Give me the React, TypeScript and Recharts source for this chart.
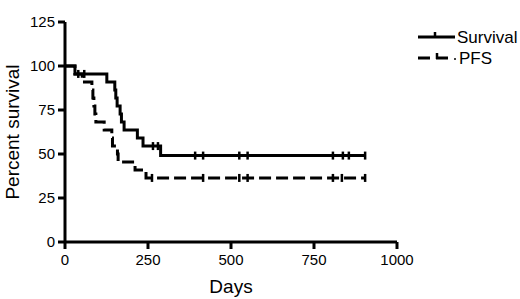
import { LineChart, Line, XAxis, YAxis } from 'recharts'

// ─── Data (Kaplan–Meier steps) ─────────────────────────────────────────────
const survivalDays = [0, 30, 40, 58, 126, 150, 153, 157, 166, 170, 178, 218, 235, 265, 280, 288, 392, 416, 525, 550, 807, 837, 855, 904]
const survivalValues = [100, 95.5, 95.5, 95.5, 90.9, 86.4, 81.8, 77.3, 72.7, 68.2, 63.6, 59.1, 54.5, 54.5, 54.5, 49.1, 49.1, 49.1, 49.1, 49.1, 49.1, 49.1, 49.1, 49.1]
const survivalCensored = [0, 0, 1, 1, 0, 0, 0, 0, 0, 0, 0, 0, 0, 1, 1, 0, 1, 1, 1, 1, 1, 1, 1, 1]

const pfsDays = [0, 30, 52, 81, 84, 87, 90, 93, 118, 141, 143, 158, 160, 211, 244, 262, 416, 525, 550, 807, 834, 904]
const pfsValues = [100, 95.5, 90.9, 86.4, 81.8, 77.3, 72.7, 68.2, 63.6, 59.1, 54.5, 50.0, 45.5, 40.9, 36.4, 36.4, 36.4, 36.4, 36.4, 36.4, 36.4, 36.4]
const pfsCensored = [0, 0, 0, 0, 0, 0, 0, 0, 0, 0, 0, 0, 0, 0, 0, 1, 1, 1, 1, 1, 1, 1]

const xTicks = [0, 250, 500, 750, 1000]
const yTicks = [0, 25, 50, 75, 100, 125]

const toRows = (days: number[], values: number[], censored: number[]) =>
  days.map((day, i) => ({ day, value: values[i], censored: censored[i] === 1 }))

const survivalData = toRows(survivalDays, survivalValues, survivalCensored)
const pfsData = toRows(pfsDays, pfsValues, pfsCensored)

const FONT = '"Liberation Sans", Arial, sans-serif'

// censor tick mark
const renderCensor = (prefix: string) => (props: any) => {
  const { cx, cy, payload, index } = props
  if (!payload?.censored) return <g key={`${prefix}-${index}`} />
  return (
    <line
      key={`${prefix}-${index}`}
      x1={cx}
      x2={cx}
      y1={cy - 4}
      y2={cy + 4}
      stroke="#000"
      strokeWidth={2.5}
    />
  )
}

function KmLegend() {
  return (
    <svg
      width={110}
      height={50}
      style={{ position: 'absolute', left: 416, top: 26, fontFamily: FONT }}
    >
      <line x1={2} x2={39} y1={11} y2={11} stroke="#000" strokeWidth={3} />
      <line x1={19} x2={19} y1={6} y2={12} stroke="#000" strokeWidth={2.5} />
      <text x={41} y={11} dy="0.36em" fontSize={17} fill="#000">Survival</text>
      <line x1={2} x2={36} y1={32} y2={32} stroke="#000" strokeWidth={3} strokeDasharray="12 6" />
      <line x1={21} x2={21} y1={27} y2={33} stroke="#000" strokeWidth={2.5} />
      <circle cx={39} cy={33} r={1} fill="#000" />
      <text x={43} y={32} dy="0.36em" fontSize={17} fill="#000">PFS</text>
    </svg>
  )
}

export default function App() {
  return (
    <div style={{ position: 'absolute', left: 0, top: 0, width: 520, height: 299, background: '#fff' }}>
      <LineChart
        width={520}
        height={299}
        margin={{ top: 22, right: 123, left: 0, bottom: 0 }}
        style={{ fontFamily: FONT }}
      >
        <XAxis
          dataKey="day"
          type="number"
          domain={[0, 1000]}
          ticks={xTicks}
          allowDataOverflow
          height={57}
          tickSize={7}
          tickMargin={5}
          axisLine={{ stroke: '#000', strokeWidth: 3 }}
          tickLine={{ stroke: '#000', strokeWidth: 3 }}
          tick={{ fill: '#000', fontSize: 15 }}
          label={{ value: 'Days', position: 'insideBottom', offset: 6, fill: '#000', fontSize: 19 }}
        />
        <YAxis
          type="number"
          domain={[0, 125]}
          ticks={yTicks}
          width={65}
          tickSize={7}
          tickMargin={3}
          axisLine={{ stroke: '#000', strokeWidth: 3 }}
          tickLine={{ stroke: '#000', strokeWidth: 3 }}
          tick={{ fill: '#000', fontSize: 15 }}
          label={{
            value: 'Percent survival',
            angle: -90,
            position: 'insideLeft',
            offset: 12,
            fill: '#000',
            fontSize: 19,
            style: { textAnchor: 'middle' },
          }}
        />
        <Line
          data={survivalData}
          dataKey="value"
          name="Survival"
          type="stepAfter"
          stroke="#000"
          strokeWidth={3}
          dot={renderCensor('s')}
          activeDot={false}
          isAnimationActive={false}
        />
        <Line
          data={pfsData}
          dataKey="value"
          name="PFS"
          type="stepAfter"
          stroke="#000"
          strokeWidth={3}
          strokeDasharray="12 5"
          dot={renderCensor('p')}
          activeDot={false}
          isAnimationActive={false}
        />
      </LineChart>
      <KmLegend />
    </div>
  )
}
